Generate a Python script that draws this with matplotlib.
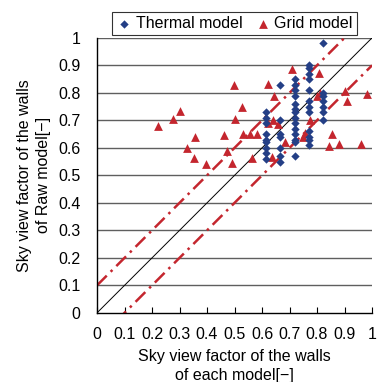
import numpy as np
import matplotlib
matplotlib.use('Agg')
import matplotlib.pyplot as plt

plt.rcParams['font.family'] = ['Liberation Sans', 'DejaVu Sans']

# Thermal model (blue diamonds)
thermal_x = [0.615, 0.615, 0.615, 0.615, 0.615, 0.615, 0.615, 0.615, 0.615,
             0.665, 0.665, 0.665, 0.665, 0.665, 0.665, 0.665,
             0.72, 0.72, 0.72, 0.72, 0.72, 0.72, 0.72, 0.72, 0.72, 0.72, 0.72, 0.72, 0.72, 0.72,
             0.77, 0.77, 0.77, 0.77, 0.77, 0.77, 0.77, 0.77, 0.77, 0.77, 0.77, 0.77,
             0.82, 0.82, 0.82, 0.82, 0.82, 0.82, 0.82]
thermal_y = [0.73, 0.71, 0.69, 0.65, 0.63, 0.62, 0.60, 0.58, 0.56,
             0.83, 0.70, 0.65, 0.64, 0.60, 0.57, 0.55,
             0.85, 0.83, 0.81, 0.79, 0.76, 0.74, 0.73, 0.71, 0.69, 0.67, 0.65, 0.63, 0.62, 0.57,
             0.90, 0.89, 0.87, 0.85, 0.81, 0.77, 0.75, 0.73, 0.66, 0.64, 0.63, 0.61,
             0.98, 0.80, 0.79, 0.77, 0.75, 0.73, 0.70]

# Grid model (red triangles)
grid_x = [0.223, 0.278, 0.302, 0.326, 0.351, 0.356, 0.396, 0.462, 0.474, 0.49,
          0.499, 0.502, 0.526, 0.532, 0.556, 0.58, 0.563, 0.62, 0.623, 0.635,
          0.64, 0.644, 0.659, 0.684, 0.708, 0.75, 0.756, 0.775, 0.80, 0.808,
          0.81, 0.845, 0.853, 0.878, 0.902, 0.908, 0.96, 0.983]
grid_y = [0.68, 0.704, 0.735, 0.60, 0.562, 0.641, 0.542, 0.647, 0.587, 0.544,
          0.829, 0.705, 0.75, 0.65, 0.65, 0.65, 0.562, 0.69, 0.833, 0.568,
          0.70, 0.787, 0.685, 0.623, 0.886, 0.641, 0.653, 0.702, 0.787, 0.872,
          0.80, 0.607, 0.65, 0.613, 0.805, 0.769, 0.614, 0.796]

ref_x = [0.0, 1.0]
offsets = [0.1, -0.1]
ticks = ['0', '0.1', '0.2', '0.3', '0.4', '0.5', '0.6', '0.7', '0.8', '0.9', '1']

fig = plt.figure(figsize=(3.82, 3.82), dpi=100)
ax = fig.add_axes([0.254, 0.181, 0.72, 0.72])

for v in np.arange(0.1, 1.01, 0.1):
    ax.axhline(v, color='#5f5f5f', lw=1.0, zorder=1)

ax.plot(ref_x, ref_x, color='black', lw=0.7, zorder=2)
for off in offsets:
    ax.plot(ref_x, [x + off for x in ref_x], color='#c4262e', lw=1.8,
            dashes=(5.5, 2.2, 1, 2.2), zorder=2)

ax.scatter(thermal_x, thermal_y, marker='D', s=18, color='#243f86',
           zorder=4, label='Thermal model', linewidths=0)
ax.scatter(grid_x, grid_y, marker='^', s=40, color='#c4262e',
           zorder=3, label='Grid model', linewidths=0)

ax.set_xlim(0, 1)
ax.set_ylim(0, 1)
ax.set_xticks(np.arange(0, 1.01, 0.1))
ax.set_xticklabels(ticks)
ax.set_yticks(np.arange(0, 1.01, 0.1))
ax.set_yticklabels(ticks)
ax.tick_params(axis='x', direction='in', length=4, labelsize=11.5, pad=10)
ax.tick_params(axis='y', length=0, labelsize=11.5, pad=12)
for s in ['top', 'right']:
    ax.spines[s].set_visible(False)
ax.spines['left'].set_linewidth(1.0)
ax.spines['bottom'].set_linewidth(1.0)

ax.set_xlabel('Sky view factor of the walls\nof each model[\u2212]', fontsize=11.5,
              labelpad=5, linespacing=1.35)
ax.set_ylabel('Sky view factor of the walls\nof Raw model[\u2212]', fontsize=11.5,
              labelpad=5, linespacing=1.35)

leg = ax.legend(loc='lower center', bbox_to_anchor=(0.5, 1.0), ncol=2, fontsize=11.5,
                frameon=True, fancybox=False, edgecolor='black', handletextpad=0.2,
                columnspacing=0.8, borderpad=0.25, handlelength=1.0,
                borderaxespad=0.15)
leg.get_frame().set_linewidth(0.8)

fig.savefig('out.png', dpi=100)
